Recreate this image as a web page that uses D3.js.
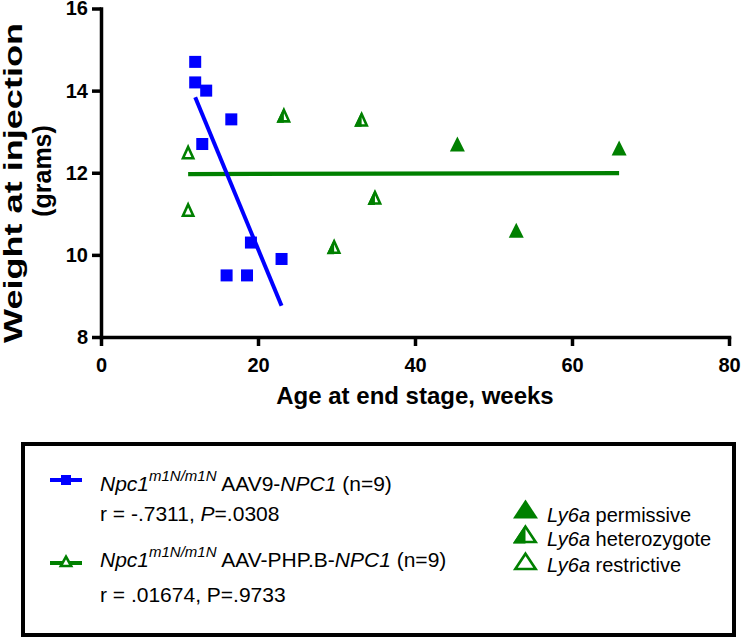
<!DOCTYPE html>
<html>
<head>
<meta charset="utf-8">
<script src="https://cdn.jsdelivr.net/npm/d3@7"></script>
<style>
  body { margin: 0; background: white; }
  text { font-family: 'Liberation Sans', Arial, sans-serif; white-space: pre; }
</style>
</head>
<body>
<div id="chart"></div>
<script>
// AAV9-NPC1 group (blue squares)
var aav9Age = [12.0, 12.0, 13.4, 16.6, 12.9, 19.1, 23.0, 16.0, 18.6]
var aav9Weight = [14.7, 14.2, 14.0, 13.3, 12.7, 10.3, 9.9, 9.5, 9.5]

// AAV-PHP.B-NPC1 group (green triangles), with Ly6a genotype
var phpAge = [11.1, 11.1, 23.3, 33.2, 34.9, 29.7, 45.4, 52.9, 66.0]
var phpWeight = [12.5, 11.1, 13.4, 13.3, 11.4, 10.2, 12.7, 10.6, 12.6]
var phpGenotype = ['restrictive', 'restrictive', 'heterozygote', 'heterozygote', 'heterozygote',
    'heterozygote', 'permissive', 'permissive', 'permissive']

var xTicks = [0, 20, 40, 60, 80]
var yTicks = [8, 10, 12, 14, 16]

var blue = '#0000ff'
var green = '#008000'

var svg = d3.select('#chart').append('svg')
    .attr('width', 741).attr('height', 639)
    .style('background', 'white')

var x = d3.scaleLinear().domain([0, 80]).range([101, 729])
var y = d3.scaleLinear().domain([8, 16]).range([337, 8.5])

// least squares line over the data range
function fitLine(xs, ys) {
    let mx = d3.mean(xs), my = d3.mean(ys)
    let sxy = d3.sum(xs, (v, i) => (v - mx) * (ys[i] - my))
    let sxx = d3.sum(xs, v => (v - mx) * (v - mx))
    let b = sxy / sxx
    let x0 = d3.min(xs), x1 = d3.max(xs)
    return [[x0, my + b * (x0 - mx)], [x1, my + b * (x1 - mx)]]
}

function triPath(cx, cy, w, h) {
    return 'M' + cx + ',' + (cy - h / 2) + 'L' + (cx + w / 2) + ',' + (cy + h / 2) +
        'L' + (cx - w / 2) + ',' + (cy + h / 2) + 'Z'
}

function drawTriangle(g, cx, cy, w, h, kind) {
    if (kind === 'permissive') {
        g.append('path').attr('d', triPath(cx, cy, w, h)).attr('fill', green)
        return
    }
    let sw = 2.6
    let wi = w - sw * 1.8, hi = h - sw * 1.4
    let cyi = cy + sw * 0.15
    g.append('path').attr('d', triPath(cx, cyi, wi, hi))
        .attr('fill', 'white').attr('stroke', green).attr('stroke-width', sw)
        .attr('stroke-linejoin', 'miter')
    if (kind === 'heterozygote') {
        g.append('path')
            .attr('d', 'M' + cx + ',' + (cy - h / 2) + 'L' + cx + ',' + (cy + h / 2) +
                'L' + (cx - w / 2) + ',' + (cy + h / 2) + 'Z')
            .attr('fill', green)
    }
}

// axes
var xAxis = d3.axisBottom(x).tickValues(xTicks).tickSize(9).tickSizeOuter(0).tickPadding(12)
var yAxis = d3.axisLeft(y).tickValues(yTicks).tickSize(9).tickSizeOuter(0).tickPadding(4)

var gx = svg.append('g').attr('transform', 'translate(0,337)').call(xAxis)
var gy = svg.append('g').attr('transform', 'translate(101,0)').call(yAxis)

;[gx, gy].forEach(g => {
    g.select('.domain').attr('stroke', 'black').attr('stroke-width', 3.5).attr('stroke-linecap', 'square')
    g.selectAll('.tick line').attr('stroke', 'black').attr('stroke-width', 3.5)
    g.selectAll('.tick text')
        .attr('fill', 'black')
        .style('font-family', "'Liberation Sans', Arial, sans-serif")
        .style('font-size', '20px').style('font-weight', 'bold')
})

// axis titles
svg.append('text')
    .attr('x', 415).attr('y', 404)
    .attr('text-anchor', 'middle')
    .style('font-size', '24px').style('font-weight', 'bold')
    .text('Age at end stage, weeks')

var ytitle = svg.append('g').attr('transform', 'translate(22,183) rotate(-90)')
ytitle.append('text')
    .attr('x', 0).attr('y', 0)
    .attr('text-anchor', 'middle')
    .attr('textLength', 320).attr('lengthAdjust', 'spacingAndGlyphs')
    .style('font-size', '25px').style('font-weight', 'bold')
    .text('Weight at injection')
ytitle.append('text')
    .attr('x', 12).attr('y', 29)
    .attr('text-anchor', 'middle')
    .style('font-size', '25px').style('font-weight', 'bold')
    .text('(grams)')

// regression lines
var line = d3.line().x(d => x(d[0])).y(d => y(d[1]))

svg.append('path').datum(fitLine(phpAge, phpWeight))
    .attr('d', line).attr('stroke', green).attr('stroke-width', 4.3).attr('fill', 'none')
svg.append('path').datum(fitLine(aav9Age, aav9Weight))
    .attr('d', line).attr('stroke', blue).attr('stroke-width', 4).attr('fill', 'none')

// points
svg.append('g').selectAll('rect')
    .data(aav9Age)
    .enter()
    .append('rect')
    .attr('x', (d, i) => x(d) - 6)
    .attr('y', (d, i) => y(aav9Weight[i]) - 6)
    .attr('width', 12).attr('height', 12)
    .attr('fill', blue)

var tg = svg.append('g')
phpAge.forEach((d, i) => {
    drawTriangle(tg, x(d), y(phpWeight[i]), 15, 15, phpGenotype[i])
})

// legend
svg.append('rect')
    .attr('x', 23).attr('y', 444).attr('width', 711).attr('height', 191)
    .attr('fill', 'none').attr('stroke', 'black').attr('stroke-width', 4)

var lg = svg.append('g')
lg.append('line').attr('x1', 50).attr('x2', 82).attr('y1', 480).attr('y2', 480)
    .attr('stroke', blue).attr('stroke-width', 4)
lg.append('rect').attr('x', 61).attr('y', 475).attr('width', 10).attr('height', 10).attr('fill', blue)

lg.append('line').attr('x1', 50).attr('x2', 82).attr('y1', 563).attr('y2', 563)
    .attr('stroke', green).attr('stroke-width', 4)
drawTriangle(lg, 66, 561, 15, 13, 'restrictive')

function groupLabel(yy, vector) {
    let t = lg.append('text').attr('x', 100).attr('y', yy).style('font-size', '21px')
    t.append('tspan').style('font-style', 'italic').text('Npc1')
    t.append('tspan').style('font-style', 'italic').style('font-size', '15px')
        .attr('dy', -10).text('m1N/m1N')
    t.append('tspan').attr('dy', 10).text(' ' + vector + '-')
    t.append('tspan').style('font-style', 'italic').text('NPC1')
    t.append('tspan').text(' (n=9)')
}

groupLabel(491, 'AAV9')
var s1 = lg.append('text').attr('x', 100).attr('y', 521).style('font-size', '21px')
s1.append('tspan').text('r = -.7311, ')
s1.append('tspan').style('font-style', 'italic').text('P')
s1.append('tspan').text('=.0308')

groupLabel(567, 'AAV-PHP.B')
lg.append('text').attr('x', 100).attr('y', 602).style('font-size', '21px')
    .text('r = .01674, P=.9733')

var genoRows = [['permissive', 509, 522], ['heterozygote', 534, 546], ['restrictive', 561, 572]]
genoRows.forEach(r => {
    drawTriangle(lg, 525.5, r[1], 25, 19, r[0])
    let t = lg.append('text').attr('x', 547).attr('y', r[2]).style('font-size', '20px')
    t.append('tspan').style('font-style', 'italic').text('Ly6a')
    t.append('tspan').text(' ' + r[0])
})
</script>
</body>
</html>
